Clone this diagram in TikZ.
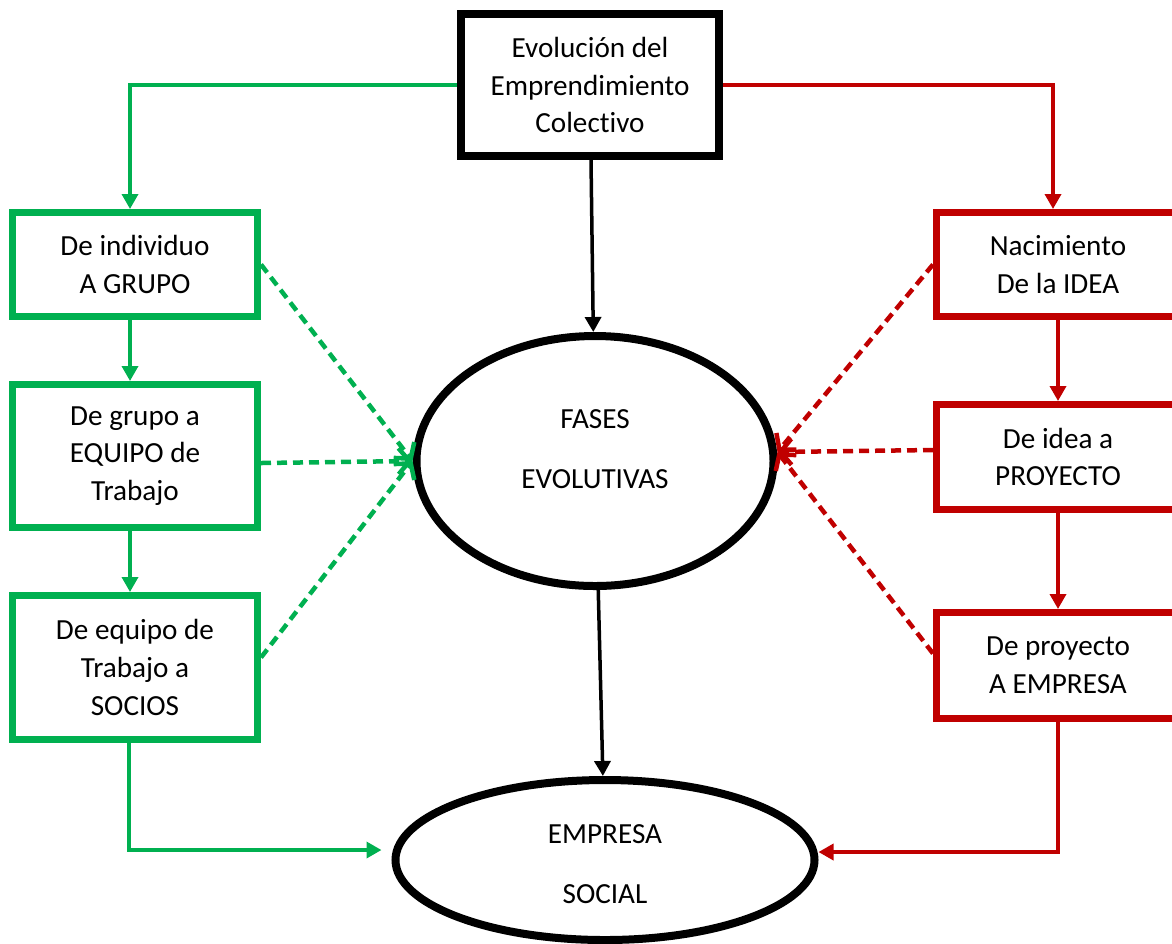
\documentclass[tikz,border=0pt]{standalone}
\usepackage{fontspec}
\setmainfont{Carlito}[Ligatures=NoCommon]
\usetikzlibrary{arrows.meta,shapes.geometric}

\definecolor{verde}{RGB}{0,176,80}
\definecolor{rojo}{RGB}{192,0,0}

\begin{document}
\begin{tikzpicture}[node distance=22mm, block/.style={rectangle, draw, line width=0.07cm, minimum width=2.45cm, inner sep=2pt, align=center, font=\fontsize{8.3}{10.7}\selectfont}, fase/.style={ellipse, draw, line width=0.08cm, inner sep=0pt, align=center, font=\fontsize{8.3}{17}\selectfont}, flecha/.style={-{Triangle[length=1.5mm, width=1.6mm]}, line width=0.035cm}, guion/.style={-{Straight Barb[length=1.1mm, width=2.6mm]}, line width=0.045cm, dash pattern=on 0.1cm off 0.06cm}]

  \useasboundingbox (0,0) rectangle (11.72,-9.43);

  \node[block, line width=0.08cm, minimum width=2.58cm, minimum height=1.42cm] (titulo) at (5.90,-0.85) {Evolución del\\Emprendimiento\\Colectivo};
  \node[fase, below of=titulo, node distance=3.76cm, xshift=0.05cm, minimum width=3.57cm, minimum height=2.50cm, text height=17.6pt, text depth=2pt] (fases) {FASES\\EVOLUTIVAS};
  \node[fase, below of=fases, node distance=3.99cm, xshift=0.10cm, minimum width=4.19cm, minimum height=1.60cm, text height=26.8pt, text depth=2pt] (social) {EMPRESA\\SOCIAL};

  \node[block, verde, text=black, minimum height=1.04cm] (grupo) at (1.35,-2.645) {De individuo\\A GRUPO};
  \node[block, verde, text=black, below of=grupo, node distance=1.915cm, minimum height=1.43cm] (equipo) {De grupo a\\EQUIPO de\\Trabajo};
  \node[block, verde, text=black, below of=equipo, node distance=2.115cm, minimum height=1.44cm] (socios) {De equipo de\\Trabajo a\\SOCIOS};

  \node[block, rojo, text=black, right of=grupo, node distance=9.23cm, minimum width=2.43cm, minimum height=1.04cm] (idea) {Nacimiento\\De la IDEA};
  \node[block, rojo, text=black, below of=idea, node distance=1.925cm, minimum width=2.43cm, minimum height=1.05cm] (proyecto) {De idea a\\PROYECTO};
  \node[block, rojo, text=black, below of=proyecto, node distance=2.085cm, minimum width=2.43cm, minimum height=1.06cm] (empresa) {De proyecto\\A EMPRESA};

  \draw[flecha] (titulo) -- (fases);
  \draw[flecha] (fases) -- (social);
  \draw[flecha, verde] (titulo.west) -| ([xshift=-0.05cm]grupo.north);
  \draw[flecha, rojo] (titulo.east) -| ([xshift=-0.05cm]idea.north);

  \draw[flecha, verde] ([xshift=-0.05cm]grupo.south) -- ([xshift=-0.05cm]equipo.north);
  \draw[flecha, verde] ([xshift=-0.05cm]equipo.south) -- ([xshift=-0.05cm]socios.north);
  \draw[flecha, verde] ([xshift=-0.06cm]socios.south) |- ([shift={(-0.1,0.1)}]social.west);
  \draw[flecha, rojo] (idea) -- (proyecto);
  \draw[flecha, rojo] (proyecto) -- (empresa);
  \draw[flecha, rojo] (empresa.south) |- ([yshift=0.08cm]social.east);

  \draw[guion, verde] (grupo.east) -- (fases.west);
  \draw[guion, verde] ([yshift=-0.07cm]equipo.east) -- (fases.west);
  \draw[guion, verde] ([yshift=0.1cm]socios.east) -- (fases.west);
  \draw[guion, rojo] (idea.west) -- ([yshift=0.09cm]fases.east);
  \draw[guion, rojo] ([yshift=0.07cm]proyecto.west) -- ([yshift=0.09cm]fases.east);
  \draw[guion, rojo] ([yshift=0.12cm]empresa.west) -- ([yshift=0.09cm]fases.east);
  \end{tikzpicture}
\end{document}
